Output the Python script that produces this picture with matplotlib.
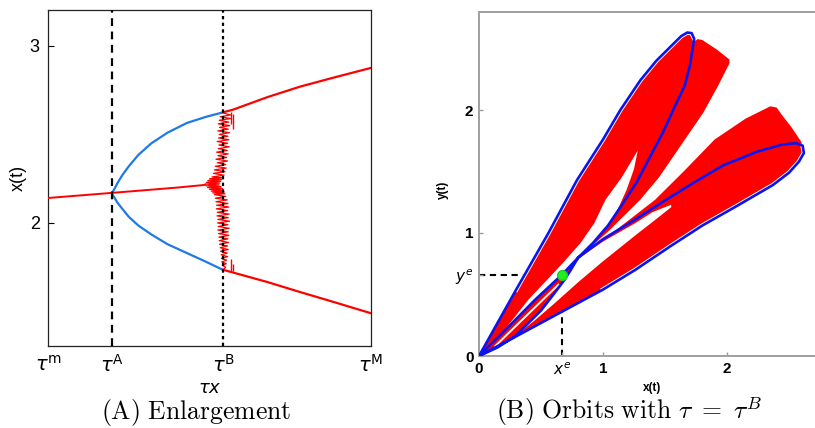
import matplotlib
matplotlib.use("Agg")
import matplotlib.pyplot as plt

# ---------------- Panel A data (tau normalised: tau^m=0, tau^M=1) ----------------
tau_ticks = [0.0, 0.198, 0.542, 1.0]
tau_labels = [r"$\tau^{\mathsf{m}}$", r"$\tau^{\mathsf{A}}$", r"$\tau^{\mathsf{B}}$", r"$\tau^{\mathsf{M}}$"]
tau_A = 0.198
tau_B = 0.542

red_left_x = [0.0, 0.198]
red_left_y = [2.141, 2.170]
red_mid_x = [0.198, 0.30, 0.40, 0.486]
red_mid_y = [2.170, 2.185, 2.200, 2.215]

blue_up_x = [0.198, 0.205, 0.215, 0.23, 0.25, 0.28, 0.32, 0.37, 0.43, 0.49, 0.542]
blue_up_y = [2.170, 2.190, 2.225, 2.270, 2.320, 2.385, 2.450, 2.510, 2.565, 2.600, 2.625]
blue_lo_x = [0.198, 0.205, 0.215, 0.23, 0.25, 0.28, 0.32, 0.37, 0.43, 0.49, 0.542]
blue_lo_y = [2.165, 2.145, 2.115, 2.080, 2.035, 1.985, 1.935, 1.880, 1.830, 1.780, 1.735]

red_up_x = [0.542, 0.573, 0.678, 0.78, 0.882, 1.0]
red_up_y = [2.625, 2.640, 2.710, 2.770, 2.820, 2.876]
red_lo_x = [0.542, 0.563, 0.678, 0.78, 0.882, 1.0]
red_lo_y = [1.735, 1.725, 1.667, 1.610, 1.555, 1.490]

chaos_x = [0.545, 0.565, 0.533, 0.566, 0.530, 0.560, 0.527, 0.563, 0.531, 0.558, 0.526, 0.562,
           0.530, 0.557, 0.528, 0.560, 0.524, 0.556, 0.529, 0.561, 0.527, 0.555, 0.522, 0.558,
           0.526, 0.553, 0.520, 0.556, 0.524, 0.550, 0.518, 0.552, 0.515, 0.548, 0.512, 0.545,
           0.508,
           0.540, 0.500, 0.538, 0.495, 0.535, 0.490, 0.532, 0.486, 0.530, 0.490, 0.536, 0.494,
           0.540, 0.500, 0.543, 0.505, 0.546, 0.510, 0.548, 0.515,
           0.550, 0.518, 0.555, 0.520, 0.557, 0.522, 0.560, 0.521, 0.556, 0.524, 0.561, 0.523,
           0.558, 0.526, 0.562, 0.525, 0.557, 0.527, 0.561, 0.526, 0.558, 0.528, 0.560, 0.529,
           0.557, 0.530, 0.559, 0.531, 0.556, 0.533, 0.558, 0.534, 0.555, 0.536, 0.556, 0.537,
           0.553, 0.538, 0.552, 0.540, 0.550, 0.545]
chaos_y = [2.62, 2.61, 2.60, 2.59, 2.58, 2.57, 2.56, 2.55, 2.54, 2.53, 2.52, 2.51,
           2.50, 2.49, 2.48, 2.47, 2.46, 2.45, 2.44, 2.43, 2.42, 2.41, 2.40, 2.39,
           2.38, 2.37, 2.36, 2.35, 2.34, 2.33, 2.32, 2.31, 2.30, 2.29, 2.28, 2.27,
           2.26,
           2.255, 2.250, 2.245, 2.240, 2.235, 2.230, 2.225, 2.220, 2.215, 2.210, 2.205, 2.200,
           2.195, 2.190, 2.185, 2.180, 2.175, 2.170, 2.165, 2.160,
           2.15, 2.14, 2.13, 2.12, 2.11, 2.10, 2.09, 2.08, 2.07, 2.06, 2.05, 2.04,
           2.03, 2.02, 2.01, 2.00, 1.99, 1.98, 1.97, 1.96, 1.95, 1.94, 1.93, 1.92,
           1.91, 1.90, 1.89, 1.88, 1.87, 1.86, 1.85, 1.84, 1.83, 1.82, 1.81, 1.80,
           1.79, 1.78, 1.77, 1.76, 1.75, 1.74]
spike_x = [0.566, 0.572, 0.568, 0.572]
spike_ymin = [2.560, 2.530, 1.725, 1.730]
spike_ymax = [2.625, 2.615, 1.795, 1.770]

# ---------------- Panel B data ----------------
xe, ye = 0.667, 0.659
outer_up_x = [0.0, 0.10, 0.30, 0.56, 0.79, 1.00, 1.14, 1.30, 1.43, 1.54, 1.63, 1.68, 1.715, 1.735]
outer_up_y = [0.0, 0.18, 0.54, 1.00, 1.43, 1.76, 2.00, 2.24, 2.40, 2.51, 2.60, 2.63, 2.625, 2.58]
inner_up_x = [1.735, 1.72, 1.70, 1.66, 1.58, 1.48, 1.38, 1.27, 1.16, 1.04, 0.92, 0.80]
inner_up_y = [2.58, 2.48, 2.36, 2.20, 2.03, 1.81, 1.62, 1.41, 1.24, 1.06, 0.92, 0.80]
loop_lo_x = [0.80, 0.74, 0.69, 0.60, 0.50, 0.38, 0.29, 0.15, 0.0]
loop_lo_y = [0.80, 0.70, 0.62, 0.50, 0.37, 0.25, 0.16, 0.07, 0.0]
loop_up_x = [0.80, 0.667, 0.45, 0.24, 0.0]
loop_up_y = [0.80, 0.659, 0.455, 0.24, 0.0]
inner_lo_x = [0.80, 1.00, 1.26, 1.54, 1.75, 1.97, 2.24, 2.45, 2.56, 2.61]
inner_lo_y = [0.80, 0.95, 1.11, 1.29, 1.42, 1.55, 1.66, 1.72, 1.73, 1.71]
outer_lo_x = [0.0, 0.30, 0.65, 1.00, 1.26, 1.54, 1.80, 2.08, 2.37, 2.50, 2.58, 2.62, 2.61]
outer_lo_y = [0.0, 0.16, 0.35, 0.54, 0.70, 0.89, 1.06, 1.22, 1.39, 1.49, 1.58, 1.65, 1.71]

# red band envelopes
cap_up_x = [1.80, 1.92, 2.02]
cap_up_y = [2.57, 2.49, 2.41]
right_up_x = [2.02, 1.93, 1.81, 1.62, 1.45, 1.30, 1.05, 0.85, 0.80]
right_up_y = [2.38, 2.20, 1.98, 1.70, 1.45, 1.27, 1.02, 0.84, 0.80]
cap_lo_x = [2.60, 2.52, 2.45, 2.40, 2.35]
cap_lo_y = [1.74, 1.86, 1.95, 2.02, 2.03]
top_lo_x = [2.35, 2.15, 1.90, 1.65, 1.42, 1.10, 0.85, 0.80]
top_lo_y = [2.03, 1.93, 1.76, 1.50, 1.27, 1.02, 0.84, 0.80]

# white holes inside the bands
hole_up_left_x = [1.28, 1.15, 1.02, 0.93, 0.82, 0.68, 0.55, 0.40, 0.22]
hole_up_left_y = [1.67, 1.45, 1.27, 1.08, 0.92, 0.76, 0.62, 0.46, 0.23]
hole_up_right_x = [1.28, 1.25, 1.19, 1.10, 0.98, 0.88, 0.80, 0.667, 0.45, 0.24]
hole_up_right_y = [1.67, 1.52, 1.35, 1.15, 0.99, 0.88, 0.80, 0.659, 0.455, 0.24]
hole_lo_low_x = [1.55, 1.40, 1.26, 1.00, 0.80, 0.60, 0.45, 0.30]
hole_lo_low_y = [1.21, 1.09, 0.98, 0.77, 0.60, 0.42, 0.29, 0.17]
hole_lo_up_x = [1.55, 1.40, 1.26, 1.00, 0.80, 0.74, 0.69, 0.60, 0.50, 0.38, 0.30]
hole_lo_up_y = [1.23, 1.17, 1.08, 0.93, 0.79, 0.69, 0.61, 0.49, 0.36, 0.245, 0.17]
stripe_x = [0.13, 0.64]
stripe_y = [0.08, 0.58]

RED = "#ff0000"
LBLUE = "#1f7ae6"
BLUE = "#0a14f0"

fig = plt.figure(figsize=(8.15, 4.28), dpi=100)

# ================= Panel A =================
axA = fig.add_axes([48 / 815, 1 - 346 / 428, 323 / 815, 336 / 428])
axA.set_xlim(0, 1)
axA.set_ylim(1.305, 3.203)
axA.plot(blue_up_x, blue_up_y, color=LBLUE, lw=1.6, zorder=2)
axA.plot(blue_lo_x, blue_lo_y, color=LBLUE, lw=1.6, zorder=2)
axA.plot(red_left_x, red_left_y, color=RED, lw=1.4, zorder=3)
axA.plot(red_mid_x, red_mid_y, color=RED, lw=1.4, zorder=3)
axA.plot(red_up_x, red_up_y, color=RED, lw=1.6, zorder=3)
axA.plot(red_lo_x, red_lo_y, color=RED, lw=1.6, zorder=3)
axA.plot(chaos_x, chaos_y, color=RED, lw=0.9, zorder=3)
axA.vlines(spike_x, spike_ymin, spike_ymax, color=RED, lw=1.0, zorder=3)
axA.axvline(tau_A, color="black", lw=1.6, ls=(0, (3.5, 2.5)), zorder=4)
axA.axvline(tau_B, color="black", lw=1.6, ls=(0, (1.5, 1.5)), zorder=4)
axA.set_yticks([2, 3])
axA.set_yticklabels(["2", "3"], fontsize=13, family="Liberation Sans")
axA.set_xticks(tau_ticks)
axA.set_xticklabels(tau_labels, fontsize=14, math_fontfamily="dejavusans")
axA.tick_params(axis="y", direction="in", length=4, width=0.8, pad=6)
axA.tick_params(axis="x", length=0, pad=6)
for s in axA.spines.values():
    s.set_linewidth(0.9)
    s.set_color("#222222")
fig.text(210 / 815, 1 - 388 / 428, r"$\tau x$", fontsize=13, ha="center", va="center",
         math_fontfamily="dejavusans")
fig.text(18 / 815, 1 - 178 / 428, "x(t)", fontsize=13, rotation=90, ha="center", va="center",
         family="Liberation Sans")

# ================= Panel B =================
axB = fig.add_axes([479 / 815, 1 - 356 / 428, (830 - 479) / 815, 344 / 428])
axB.set_xlim(0, 351 / 124)
axB.set_ylim(0, 344 / 123)

# dashed guides (beneath the bands)
axB.plot([0, xe], [ye, ye], color="black", lw=1.5, ls=(0, (3, 2.2)), zorder=1)
axB.plot([xe, xe], [0, ye], color="black", lw=1.5, ls=(0, (3, 2.2)), zorder=1)

# red envelopes
env_up_x = outer_up_x + cap_up_x + right_up_x + loop_lo_x
env_up_y = outer_up_y + cap_up_y + right_up_y + loop_lo_y
axB.fill(env_up_x, env_up_y, color=RED, lw=0, zorder=2)
env_lo_x = outer_lo_x + cap_lo_x + top_lo_x + loop_up_x
env_lo_y = outer_lo_y + cap_lo_y + top_lo_y + loop_up_y
axB.fill(env_lo_x, env_lo_y, color=RED, lw=0, zorder=2)

# white holes
axB.fill(hole_up_left_x + hole_up_right_x[::-1], hole_up_left_y + hole_up_right_y[::-1],
         color="white", lw=0, zorder=3)
axB.fill(hole_lo_low_x + hole_lo_up_x[::-1], hole_lo_low_y + hole_lo_up_y[::-1],
         color="white", lw=0, zorder=3)
axB.plot(stripe_x, stripe_y, color="white", lw=1.4, zorder=3)

# blue orbit
orbit_x = outer_up_x + inner_up_x + loop_lo_x[1:] + outer_lo_x[1:] + inner_lo_x[::-1] + loop_up_x[1:]
orbit_y = outer_up_y + inner_up_y + loop_lo_y[1:] + outer_lo_y[1:] + inner_lo_y[::-1] + loop_up_y[1:]
axB.plot(outer_up_x[2:], outer_up_y[2:], color="white", lw=3.2, zorder=4)
axB.plot(outer_lo_x[3:], outer_lo_y[3:], color="white", lw=3.2, zorder=4)
axB.plot(orbit_x, orbit_y, color=BLUE, lw=1.9, zorder=5, solid_joinstyle="round")

axB.plot([xe], [ye], "o", ms=7, mfc="#22ee22", mec="#22cc22", zorder=6)

axB.set_xticks([0, xe, 1, 2])
axB.set_xticklabels(["0", r"$x^e$", "1", "2"])
axB.set_yticks([0, ye, 1, 2])
axB.set_yticklabels(["0", r"$y^e$", "1", "2"])
for lab in axB.get_xticklabels() + axB.get_yticklabels():
    lab.set_fontsize(11)
    if lab.get_text() in ("0", "1", "2"):
        lab.set_fontweight("bold")
        lab.set_family("Liberation Sans")
axB.tick_params(direction="in", length=3, width=1, color="#999999", pad=4)
for name, s in axB.spines.items():
    s.set_color("#a0a0a0")
    s.set_linewidth(1.4)
fig.text(652 / 815, 1 - 388 / 428, "x(t)", fontsize=8.5, fontweight="bold", ha="center",
         va="center", family="Liberation Sans")
fig.text(443 / 815, 1 - 190 / 428, "y(t)", fontsize=8.5, fontweight="bold", rotation=90,
         ha="center", va="center", family="Liberation Sans")

# captions
fig.text(196 / 815, 1 - 412 / 428, r"$\mathrm{(A)\ Enlargement}$", fontsize=18.5,
         ha="center", va="center", math_fontfamily="cm")
fig.text(629 / 815, 1 - 412 / 428, r"$\mathrm{(B)\ Orbits\ with\ }\tau\ =\ \tau^{B}$", fontsize=18.5,
         ha="center", va="center", math_fontfamily="cm")

fig.savefig("out.png", dpi=100)
